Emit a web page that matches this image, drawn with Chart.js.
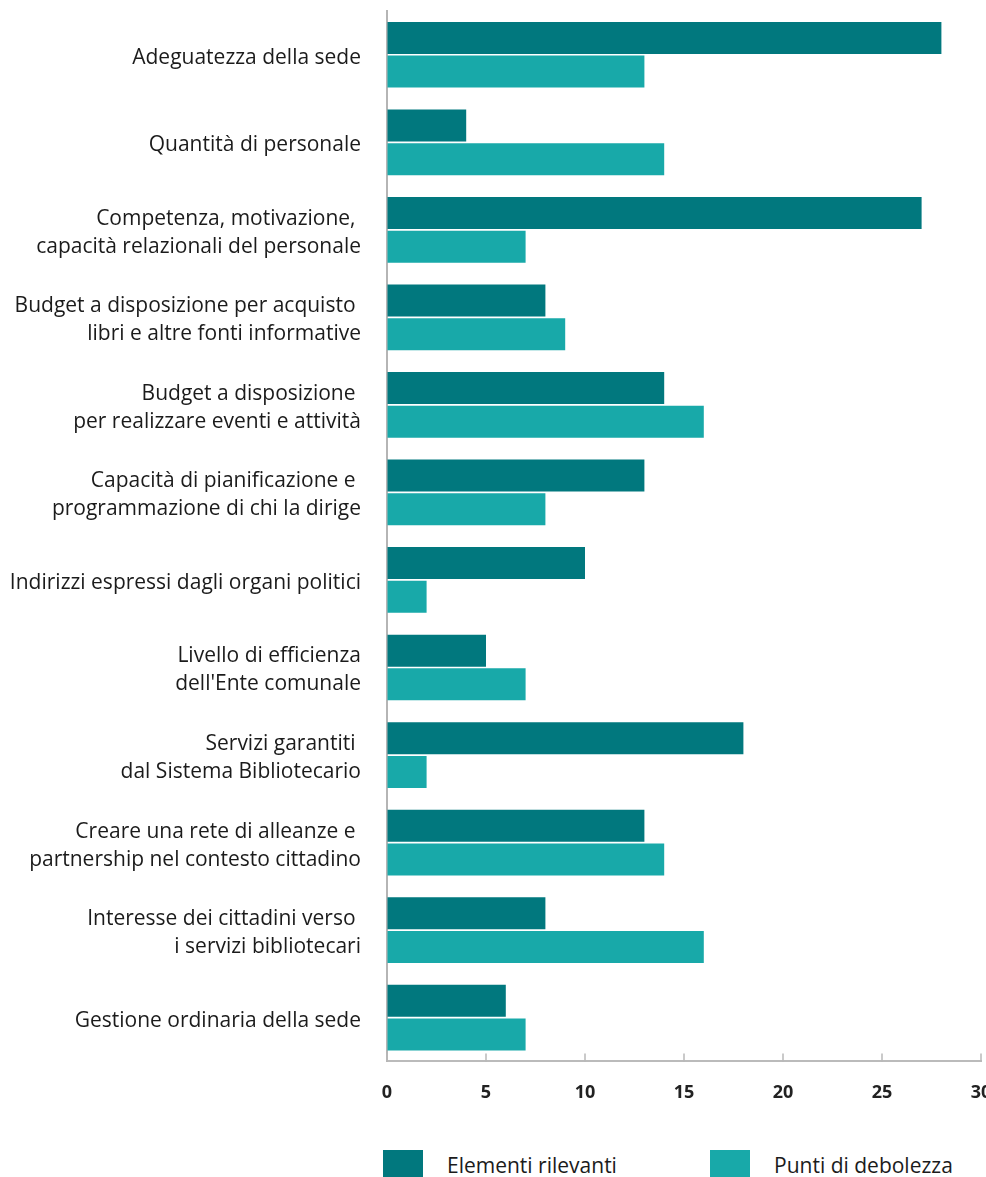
<!DOCTYPE html>
<html>
<head>
<meta charset="utf-8">
<script src="https://cdn.jsdelivr.net/npm/chart.js@4/dist/chart.umd.min.js"></script>
<style>
  body { margin: 0; background: #fff; overflow: hidden; width: 986px; height: 1177px; position: relative; }
  #chartCanvas { position: absolute; left: 0; top: 0; }
  #legend { position: absolute; left: 0; top: 1150px; width: 986px; height: 40px; }
  .item { position: absolute; top: 0; font: 21px "Open Sans", sans-serif; color: #1b1b1b; }
  .box { position: absolute; top: 0; width: 40px; height: 30px; }
  .txt { position: absolute; top: 0; line-height: 30px; white-space: nowrap; }
</style>
</head>
<body>
<canvas id="chartCanvas" width="1000" height="1133"></canvas>
<div id="legend"></div>
<script>
const categories = [
  ['Adeguatezza della sede'],
  ['Quantità di personale'],
  ['Competenza, motivazione, ', 'capacità relazionali del personale'],
  ['Budget a disposizione per acquisto ', 'libri e altre fonti informative'],
  ['Budget a disposizione ', 'per realizzare eventi e attività'],
  ['Capacità di pianificazione e ', 'programmazione di chi la dirige'],
  ['Indirizzi espressi dagli organi politici'],
  ['Livello di efficienza', "dell'Ente comunale"],
  ['Servizi garantiti ', 'dal Sistema Bibliotecario'],
  ['Creare una rete di alleanze e ', 'partnership nel contesto cittadino'],
  ['Interesse dei cittadini verso ', 'i servizi bibliotecari'],
  ['Gestione ordinaria della sede']
]
const elementiRilevanti = [28, 4, 27, 8, 14, 13, 10, 5, 18, 13, 8, 6]
const puntiDebolezza = [13, 14, 7, 9, 16, 8, 2, 7, 2, 14, 16, 7]
const xTicks = [0, 5, 10, 15, 20, 25, 30]

const seriesNames = ['Elementi rilevanti', 'Punti di debolezza']
const seriesColors = ['#01787e', '#18a9a9']

// tacche dell'asse x rivolte verso l'interno
const innerTicks = {
  id: 'innerTicks',
  afterDraw(chart) {
    const x = chart.scales.x
    const ctx = chart.ctx
    const bottom = chart.chartArea.bottom
    ctx.save()
    ctx.strokeStyle = '#b8b8b8'
    ctx.lineWidth = 1.5
    xTicks.forEach(v => {
      const px = x.getPixelForValue(v)
      ctx.beginPath()
      ctx.moveTo(px, bottom - 8)
      ctx.lineTo(px, bottom)
      ctx.stroke()
    })
    ctx.restore()
  }
}

const chart = new Chart(document.getElementById('chartCanvas'), {
  type: 'bar',
  data: {
    labels: categories,
    datasets: [
      { label: seriesNames[0], data: elementiRilevanti, backgroundColor: seriesColors[0] },
      { label: seriesNames[1], data: puntiDebolezza, backgroundColor: seriesColors[1] }
    ]
  },
  options: {
    indexAxis: 'y',
    responsive: false,
    animation: false,
    categoryPercentage: 0.77,
    barPercentage: 0.95,
    layout: { padding: { top: 11, right: 19, bottom: 8, left: 0 } },
    plugins: {
      legend: { display: false },
      tooltip: { enabled: false }
    },
    scales: {
      x: {
        min: 0,
        max: 30,
        afterBuildTicks(scale) {
          scale.ticks = xTicks.map(v => ({ value: v }))
        },
        afterFit(scale) {
          scale.paddingLeft = 0
          scale.paddingRight = 0
        },
        grid: { drawOnChartArea: false, drawTicks: false },
        border: { display: true, color: '#bbbbbb', width: 2 },
        ticks: {
          padding: 21,
          color: '#222',
          font: { family: 'Open Sans', size: 18, weight: 'bold' }
        }
      },
      y: {
        z: 1,
        afterFit(scale) {
          scale.width = 387
          scale.paddingTop = 0
          scale.paddingBottom = 0
        },
        grid: { display: false, drawTicks: false },
        border: { display: true, color: '#b5b5b5', width: 2 },
        ticks: {
          padding: 26,
          labelOffset: 3,
          color: '#1b1b1b',
          font: { family: 'Open Sans', size: 21, lineHeight: 1.333 }
        }
      }
    }
  },
  plugins: [innerTicks]
})

// legenda costruita dai dataset
const legendLeft = [383, 710]
const legend = document.getElementById('legend')
chart.data.datasets.forEach((ds, i) => {
  const item = document.createElement('div')
  item.className = 'item'
  item.style.left = legendLeft[i] + 'px'
  item.innerHTML = '<div class="box" style="left:0;background:' + ds.backgroundColor + '"></div>' +
    '<div class="txt" style="left:64px">' + ds.label + '</div>'
  legend.appendChild(item)
})
</script>
</body>
</html>
